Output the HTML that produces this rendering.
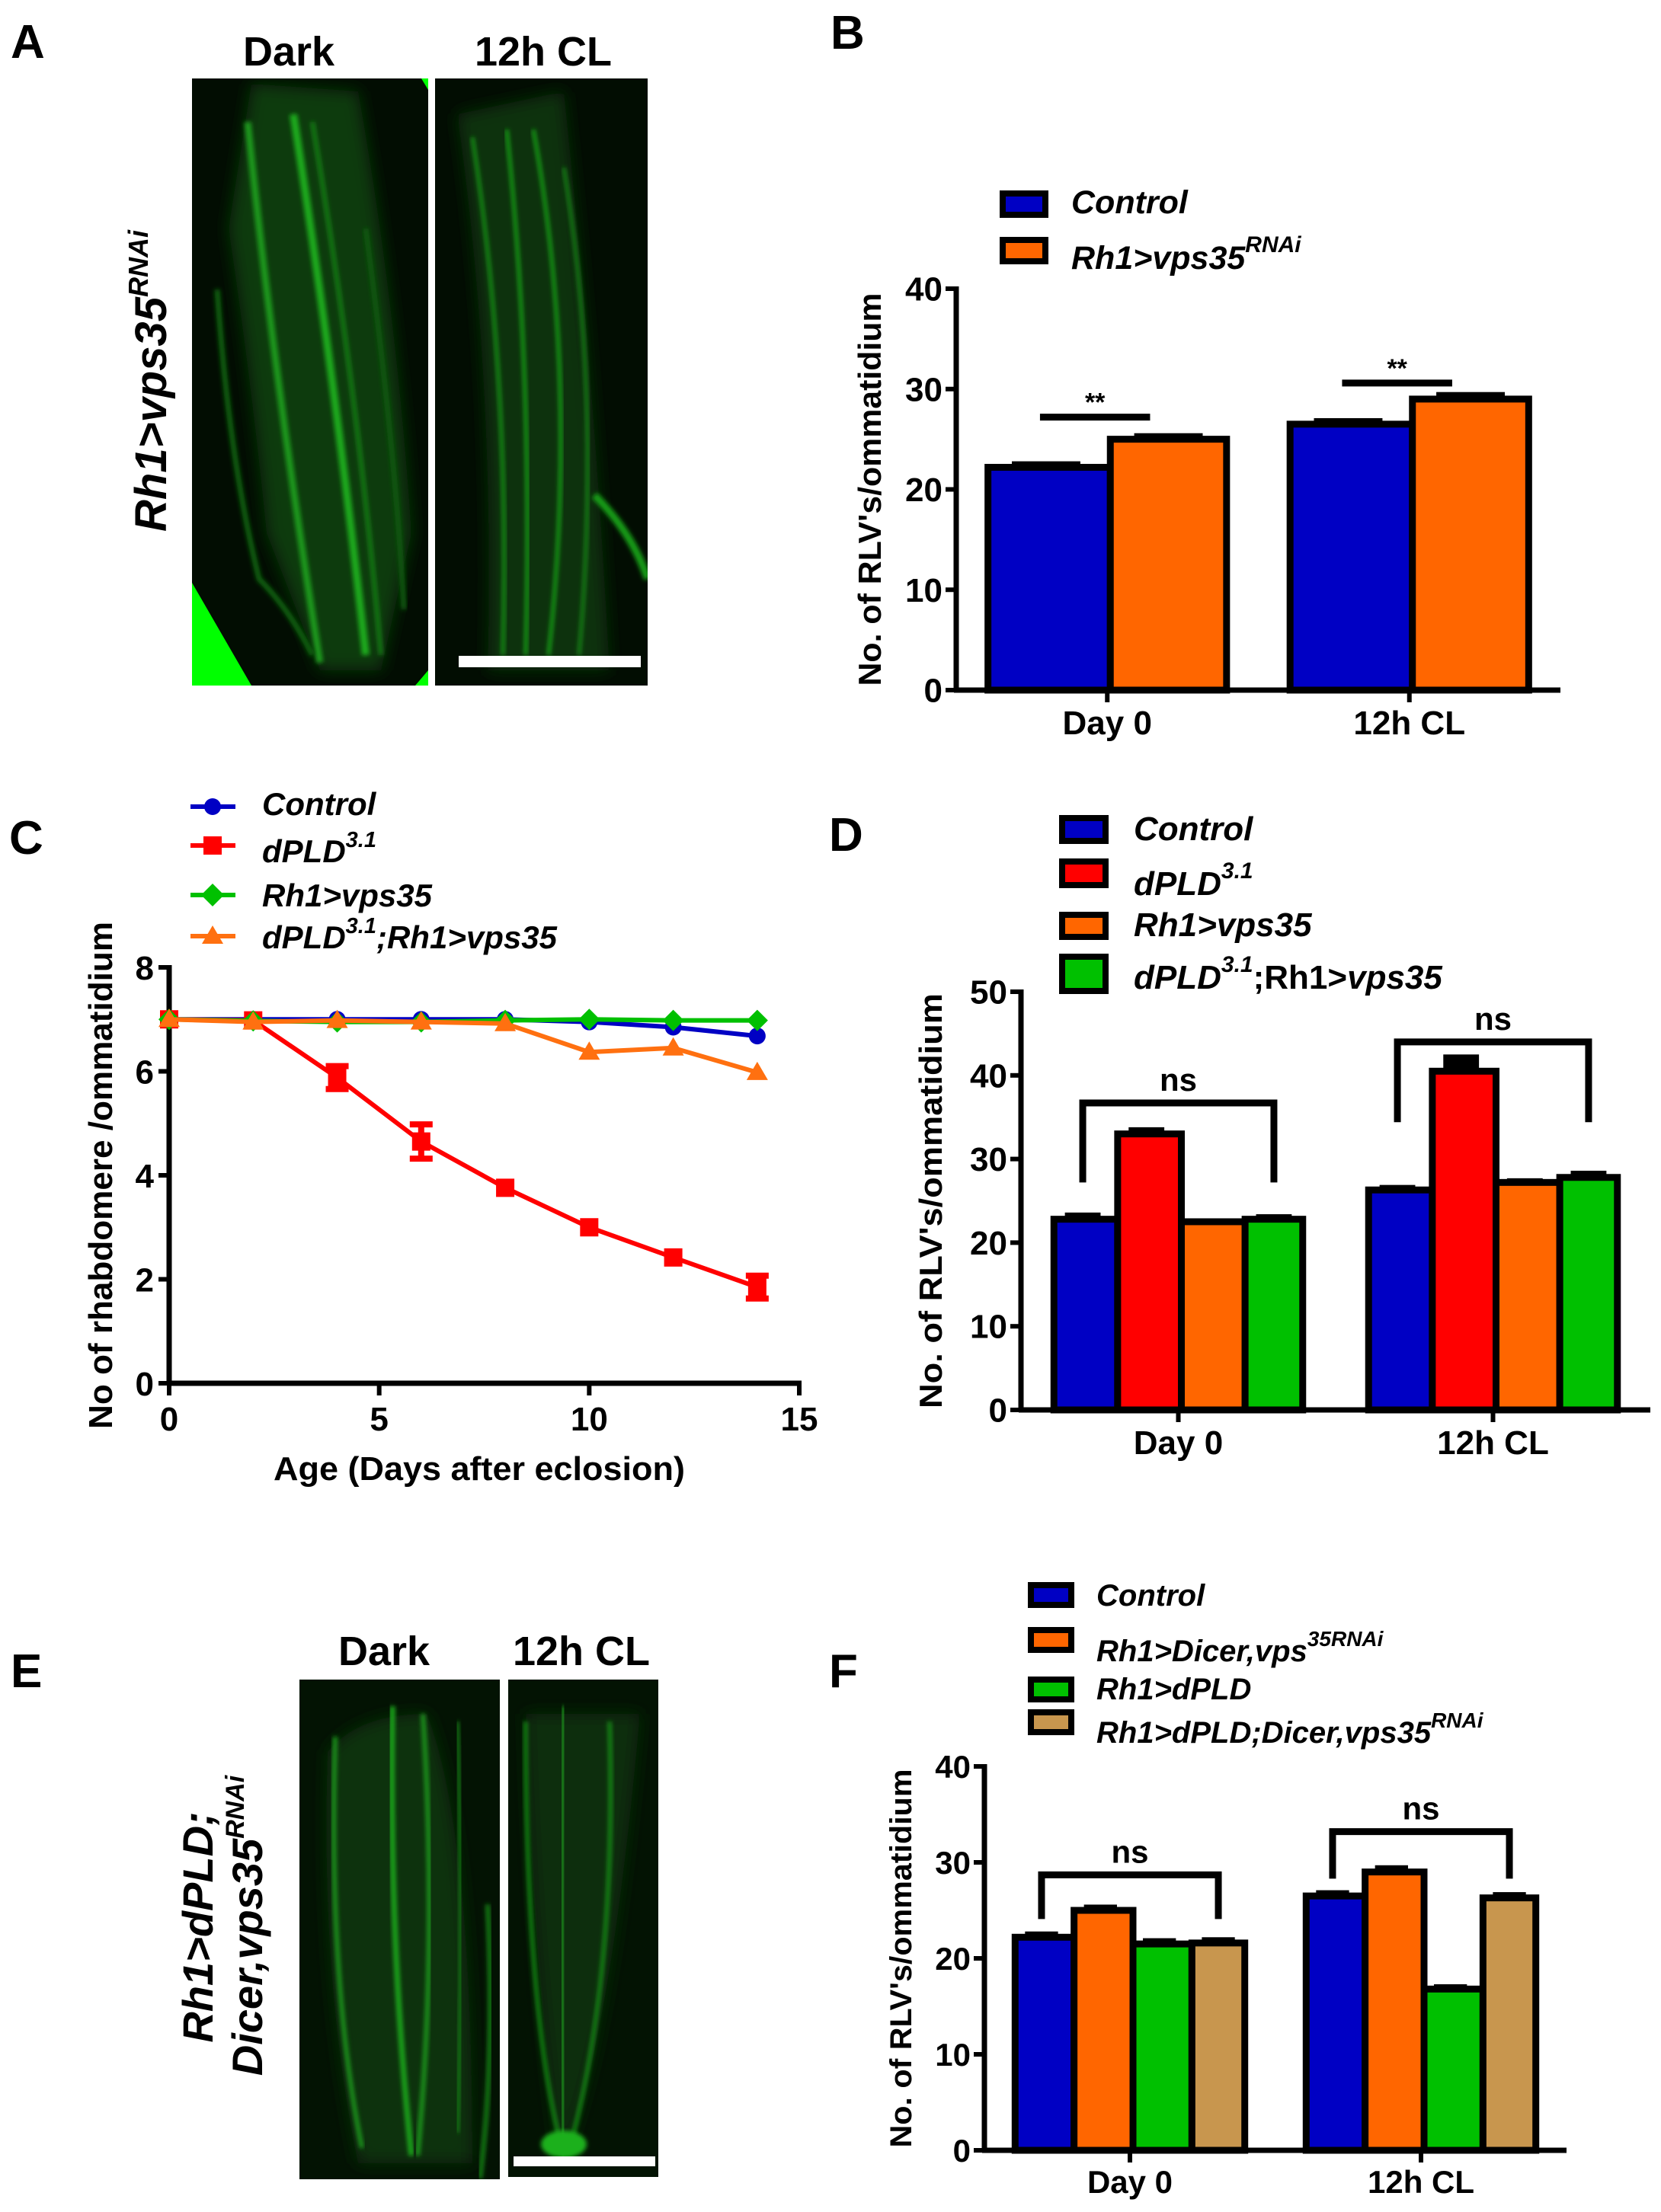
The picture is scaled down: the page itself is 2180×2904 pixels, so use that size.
<!DOCTYPE html>
<html><head><meta charset="utf-8">
<style>
html,body{margin:0;padding:0;background:#fff;}
svg{display:block;font-family:"Liberation Sans",sans-serif;font-weight:bold;}
</style></head>
<body>
<svg id="fig" xmlns="http://www.w3.org/2000/svg" width="2180" height="2904" viewBox="0 0 2180 2904">
<defs>
<filter id="blur2" x="-10%" y="-10%" width="120%" height="120%"><feGaussianBlur stdDeviation="3"/></filter>
<filter id="blur6" x="-10%" y="-10%" width="120%" height="120%"><feGaussianBlur stdDeviation="10"/></filter>
<clipPath id="clipA1"><rect x="252" y="103" width="310" height="797"/></clipPath>
<clipPath id="clipA2"><rect x="571" y="103" width="279" height="797"/></clipPath>
<clipPath id="clipE1"><rect x="393" y="2205" width="263" height="656"/></clipPath>
<clipPath id="clipE2"><rect x="667" y="2205" width="197" height="653"/></clipPath>
</defs>

<!-- Panel labels -->
<text x="14" y="76" font-size="62">A</text>
<text x="1090" y="64" font-size="62">B</text>
<text x="12" y="1121" font-size="62">C</text>
<text x="1088" y="1117" font-size="62">D</text>
<text x="14" y="2215" font-size="62">E</text>
<text x="1088" y="2215" font-size="62">F</text>

<!-- Panel A images -->
<g>
<text x="379" y="86" font-size="54" text-anchor="middle">Dark</text>
<text x="713" y="86" font-size="54" text-anchor="middle">12h CL</text>
<g clip-path="url(#clipA1)">
<rect x="252" y="103" width="310" height="797" fill="#020d02"/>
<path d="M300 300 Q330 500 350 700 L420 880 L500 880 L540 700 Q520 400 470 120 L330 110 Z" fill="#0b3a0b" filter="url(#blur6)"/>
<path d="M325 160 Q360 500 420 870" stroke="#1a9a1a" stroke-width="9" fill="none" filter="url(#blur2)"/>
<path d="M385 150 Q440 500 480 860" stroke="#1eaa1e" stroke-width="10" fill="none" filter="url(#blur2)"/>
<path d="M410 160 Q470 520 500 860" stroke="#147a14" stroke-width="6" fill="none" filter="url(#blur2)"/>
<path d="M285 380 Q300 600 340 760 Q380 800 410 860" stroke="#106410" stroke-width="7" fill="none" filter="url(#blur2)"/>
<path d="M480 300 Q520 600 530 800" stroke="#0e5a0e" stroke-width="7" fill="none" filter="url(#blur2)"/>
<polygon points="252,765 252,900 330,900" fill="#00ff00"/>
<polygon points="553,103 562,103 562,118" fill="#00ff00"/>
<polygon points="545,900 562,900 562,880" fill="#00ff00"/>
</g>
<g clip-path="url(#clipA2)">
<rect x="571" y="103" width="279" height="797" fill="#020d02"/>
<path d="M600 150 Q650 500 640 880 L800 880 Q780 500 740 120 Z" fill="#0a300a" filter="url(#blur6)"/>
<path d="M620 180 Q670 500 660 860" stroke="#168e16" stroke-width="5" fill="none" filter="url(#blur2)"/>
<path d="M665 170 Q700 500 690 860" stroke="#189c18" stroke-width="5" fill="none" filter="url(#blur2)"/>
<path d="M700 170 Q760 500 720 860" stroke="#189c18" stroke-width="5" fill="none" filter="url(#blur2)"/>
<path d="M740 220 Q790 520 760 860" stroke="#148014" stroke-width="5" fill="none" filter="url(#blur2)"/>
<path d="M780 650 Q830 700 850 760" stroke="#189c18" stroke-width="10" fill="none" filter="url(#blur2)"/>
</g>
<rect x="602" y="861" width="239" height="15" fill="#fff"/>
<text transform="translate(218,500) rotate(-90)" font-size="58" font-style="italic" text-anchor="middle">Rh1&gt;vps35<tspan dy="-24" font-size="36">RNAi</tspan></text>
</g>

<!-- Panel E images -->
<g>
<text x="504" y="2186" font-size="54" text-anchor="middle">Dark</text>
<text x="763" y="2186" font-size="54" text-anchor="middle">12h CL</text>
<g clip-path="url(#clipE1)">
<rect x="393" y="2205" width="263" height="656" fill="#031303"/>
<path d="M430 2300 Q470 2250 560 2250 Q620 2400 620 2840 L470 2840 Q420 2600 430 2300 Z" fill="#0a300a" filter="url(#blur6)"/>
<path d="M440 2280 Q430 2600 475 2820" stroke="#1a961a" stroke-width="6" fill="none" filter="url(#blur2)"/>
<path d="M515 2240 Q510 2550 540 2830" stroke="#1ea81e" stroke-width="7" fill="none" filter="url(#blur2)"/>
<path d="M555 2250 Q575 2550 548 2830" stroke="#1a961a" stroke-width="6" fill="none" filter="url(#blur2)"/>
<path d="M600 2260 Q610 2550 600 2800" stroke="#127a12" stroke-width="5" fill="none" filter="url(#blur2)"/>
<path d="M640 2500 Q650 2700 630 2860" stroke="#137e13" stroke-width="6" fill="none" filter="url(#blur2)"/>
</g>
<g clip-path="url(#clipE2)">
<rect x="667" y="2205" width="197" height="653" fill="#031303"/>
<path d="M690 2250 Q700 2600 735 2840 Q800 2700 840 2250 Z" fill="#0a2e0a" filter="url(#blur6)"/>
<path d="M690 2260 Q690 2650 740 2830" stroke="#188e18" stroke-width="5" fill="none" filter="url(#blur2)"/>
<path d="M740 2240 Q735 2550 740 2830" stroke="#1a9a1a" stroke-width="5" fill="none" filter="url(#blur2)"/>
<path d="M800 2260 Q810 2600 745 2830" stroke="#188e18" stroke-width="5" fill="none" filter="url(#blur2)"/>
<ellipse cx="740" cy="2815" rx="30" ry="18" fill="#1eb01e" filter="url(#blur2)"/>
</g>
<rect x="674" y="2831" width="186" height="13" fill="#fff"/>
<text transform="translate(279,2530) rotate(-90)" font-size="56" font-style="italic" text-anchor="middle">Rh1&gt;dPLD;</text>
<text transform="translate(344,2528) rotate(-90)" font-size="56" font-style="italic" text-anchor="middle">Dicer,vps35<tspan dy="-24" font-size="34">RNAi</tspan></text>
</g>

<!-- Panel B legend -->
<g>
<rect x="1316" y="254" width="56" height="28" fill="#0000c4" stroke="#000" stroke-width="8"/>
<text x="1406" y="280" font-size="43" font-style="italic">Control</text>
<rect x="1316" y="315" width="56" height="28" fill="#ff6600" stroke="#000" stroke-width="8"/>
<text x="1406" y="353" font-size="43" font-style="italic">Rh1&gt;vps35<tspan dy="-22" font-size="30">RNAi</tspan></text>
</g>

<!-- Panel D legend -->
<g>
<rect x="1394" y="1074" width="57" height="30" fill="#0000c4" stroke="#000" stroke-width="8"/>
<text x="1488" y="1103" font-size="44" font-style="italic">Control</text>
<rect x="1394" y="1131" width="57" height="31" fill="#ff0000" stroke="#000" stroke-width="8"/>
<text x="1488" y="1175" font-size="44" font-style="italic">dPLD<tspan dy="-22" font-size="30">3.1</tspan></text>
<rect x="1394" y="1201" width="57" height="29" fill="#ff6600" stroke="#000" stroke-width="8"/>
<text x="1488" y="1229" font-size="44" font-style="italic">Rh1&gt;vps35</text>
<rect x="1394" y="1256" width="57" height="45" fill="#00c000" stroke="#000" stroke-width="8"/>
<text x="1488" y="1298" font-size="44"><tspan font-style="italic">dPLD</tspan><tspan dy="-22" font-size="30" font-style="italic">3.1</tspan><tspan dy="22">;Rh1&gt;</tspan><tspan font-style="italic">vps35</tspan></text>
</g>

<!-- Panel F legend -->
<g>
<rect x="1353" y="2081" width="53" height="26" fill="#0000c4" stroke="#000" stroke-width="8"/>
<text x="1439" y="2108" font-size="40" font-style="italic">Control</text>
<rect x="1353" y="2140" width="53" height="26" fill="#ff6600" stroke="#000" stroke-width="8"/>
<text x="1439" y="2181" font-size="40" font-style="italic">Rh1&gt;Dicer,vps<tspan dy="-20" font-size="28">35RNAi</tspan></text>
<rect x="1353" y="2205" width="53" height="26" fill="#00c000" stroke="#000" stroke-width="8"/>
<text x="1439" y="2231" font-size="40" font-style="italic">Rh1&gt;dPLD</text>
<rect x="1353" y="2248" width="53" height="26" fill="#c8964e" stroke="#000" stroke-width="8"/>
<text x="1439" y="2288" font-size="40" font-style="italic">Rh1&gt;dPLD;Dicer,vps35<tspan dy="-20" font-size="28">RNAi</tspan></text>
</g>

<!-- Panel C legend -->
<g>
<line x1="250" y1="1059" x2="309" y2="1059" stroke="#0000c4" stroke-width="6"/>
<circle cx="279" cy="1059" r="11" fill="#0000c4"/>
<text x="344" y="1070" font-size="42" font-style="italic">Control</text>
<line x1="250" y1="1110" x2="309" y2="1110" stroke="#ff0000" stroke-width="6"/>
<rect x="267" y="1098" width="24" height="24" fill="#ff0000"/>
<text x="344" y="1132" font-size="42" font-style="italic">dPLD<tspan dy="-20" font-size="29">3.1</tspan></text>
<line x1="250" y1="1175" x2="309" y2="1175" stroke="#00c000" stroke-width="6"/>
<polygon points="279,1160 294,1175 279,1190 264,1175" fill="#00c000"/>
<text x="344" y="1190" font-size="42" font-style="italic">Rh1&gt;vps35</text>
<line x1="250" y1="1229" x2="309" y2="1229" stroke="#ff7010" stroke-width="6"/>
<polygon points="279,1215 293,1239 265,1239" fill="#ff7010"/>
<text x="344" y="1245" font-size="42" font-style="italic">dPLD<tspan dy="-20" font-size="29">3.1</tspan><tspan dy="20">;Rh1&gt;vps35</tspan></text>
</g>

<g id="charts"></g>
</svg>

<script>
// ---------- Panel B data ----------
var bCategories = ['Day 0', '12h CL'];
var bControl = [22.2, 26.5];
var bVps35 = [25.0, 29.0];
var bErrControl = [0.6, 0.6];
var bErrVps35 = [0.6, 0.7];
var bTicks = [0, 10, 20, 30, 40];
var bSigLevels = [27.2, 30.6];
var bSigLabels = ['**', '**'];

// ---------- Panel C data ----------
var cDays = [0, 2, 4, 6, 8, 10, 12, 14];
var cControl = [7, 7, 7, 7, 7, 6.95, 6.85, 6.68];
var cPld = [7, 6.98, 5.88, 4.65, 3.76, 3.0, 2.42, 1.85];
var cErrPld = [0, 0, 0.22, 0.33, 0, 0, 0, 0.22];
var cVps35 = [7, 6.97, 6.95, 6.95, 6.98, 7, 6.98, 6.98];
var cDouble = [7, 6.95, 6.98, 6.95, 6.92, 6.37, 6.45, 5.98];
var cXTicks = [0, 5, 10, 15];
var cYTicks = [0, 2, 4, 6, 8];

// ---------- Panel D data ----------
var dCategories = ['Day 0', '12h CL'];
var dControl = [22.8, 26.3];
var dPld = [33.0, 40.5];
var dVps35 = [22.5, 27.2];
var dDouble = [22.8, 27.8];
var dErrControl = [0.8, 0.6];
var dErrPld = [0.8, 2.0];
var dErrVps35 = [0.4, 0.5];
var dErrDouble = [0.6, 0.8];
var dTicks = [0, 10, 20, 30, 40, 50];
var dBracketTops = [36.7, 44.0];
var dBracketBottoms = [27.2, 34.4];

// ---------- Panel F data ----------
var fCategories = ['Day 0', '12h CL'];
var fControl = [22.2, 26.5];
var fDicer = [25.0, 29.0];
var fPld = [21.5, 16.8];
var fDouble = [21.6, 26.3];
var fErrControl = [0.6, 0.6];
var fErrDicer = [0.6, 0.7];
var fErrPld = [0.6, 0.5];
var fErrDouble = [0.6, 0.6];
var fTicks = [0, 10, 20, 30, 40];
var fBracketTops = [28.7, 33.2];
var fBracketBottoms = [24.1, 28.3];

var NS = 'http://www.w3.org/2000/svg';
var root = document.getElementById('charts');
function mk(tag, parent) { var e = document.createElementNS(NS, tag); (parent || root).appendChild(e); return e; }
function attrs(e, o) { for (var k in o) e.setAttribute(k, o[k]); return e; }

function barChart(cfg) {
  var g = mk('g');
  
  
  var yScale = function (v) { return cfg.y0 - (v / cfg.ymax) * (cfg.y0 - cfg.yTop); };
  var band = (cfg.x1 - cfg.x0) / cfg.categories.length;
  var groupW = band * 0.81;
  var barW = groupW / cfg.series.length;
  cfg.categories.forEach(function (cat, i) {
    var cx = cfg.x0 + band * (i + 0.5);
    var gx = cx - groupW / 2;
    cfg.series.forEach(function (s, j) {
      var v = s.values[i], e = s.errors[i];
      var bx = gx + j * barW;
      var top = yScale(v);
      var eb = mk('rect', g);
      attrs(eb, { x: bx + barW * 0.22, y: yScale(v + e), width: barW * 0.56, height: Math.max(top - yScale(v + e), 0) + 4, fill: '#000' });
      
      
      var r = mk('rect', g);
      attrs(r, { x: bx + 4, y: top, width: barW - 8 + (j < cfg.series.length - 1 ? 8 : 0), height: cfg.y0 - top, fill: s.color, stroke: '#000', 'stroke-width': 9 });
      
      
    });
    var t = mk('line', g);
    attrs(t, { x1: cx, x2: cx, y1: cfg.y0, y2: cfg.y0 + 16, stroke: '#000', 'stroke-width': 6 });
    
    
    var tl = mk('text', g);
    attrs(tl, { x: cx, y: cfg.y0 + cfg.xLabelOffset, 'font-size': cfg.fs + 2, 'text-anchor': 'middle' });
    tl.textContent = cat;
    
    
  });
  var ya = mk('line', g);
  attrs(ya, { x1: cfg.x0, x2: cfg.x0, y1: cfg.yTop - 3, y2: cfg.y0 + 3, stroke: '#000', 'stroke-width': 7 });
  
  
  var xa = mk('line', g);
  attrs(xa, { x1: cfg.x0 - 3, x2: cfg.x1, y1: cfg.y0, y2: cfg.y0, stroke: '#000', 'stroke-width': 7 });
  
  
  cfg.ticks.forEach(function (tv) {
    var y = yScale(tv);
    var tk = mk('line', g);
    attrs(tk, { x1: cfg.x0 - 14, x2: cfg.x0, y1: y, y2: y, stroke: '#000', 'stroke-width': 6 });
    
    
    var lb = mk('text', g);
    attrs(lb, { x: cfg.x0 - 18, y: y + cfg.fs * 0.37, 'font-size': cfg.fs + 2, 'text-anchor': 'end' });
    lb.textContent = tv;
    
    
  });
  var yt = mk('text', g);
  var mid = (cfg.yTop + cfg.y0) / 2;
  attrs(yt, { transform: 'translate(' + cfg.titleX + ',' + mid + ') rotate(-90)', 'font-size': cfg.fs, 'text-anchor': 'middle', textLength: cfg.titleLen, lengthAdjust: 'spacingAndGlyphs' });
  yt.textContent = "No. of RLV's/ommatidium";
  
  
  return { g: g, yScale: yScale, band: band, groupW: groupW, barW: barW };
}

// ----- Panel B -----
var B = barChart({ name: 'chart-b', x0: 1255, x1: 2048, y0: 906, yTop: 379, ymax: 40, fs: 42, xLabelOffset: 58,
  titleX: 1156, titleLen: 516, ticks: bTicks, categories: bCategories,
  series: [{ key: 'control', values: bControl, errors: bErrControl, color: '#0000c4' },
           { key: 'vps35', values: bVps35, errors: bErrVps35, color: '#ff6600' }] });
bCategories.forEach(function (c, i) {
  var cx = 1255 + B.band * (i + 0.5);
  var y = B.yScale(bSigLevels[i]);
  var l = mk('line', B.g);
  attrs(l, { x1: cx - B.barW * 0.55, x2: cx + B.barW * 0.35, y1: y, y2: y, stroke: '#000', 'stroke-width': 9 });
  
  
  var t = mk('text', B.g);
  attrs(t, { x: cx - B.barW * 0.1, y: y - 8, 'font-size': 34, 'text-anchor': 'middle' });
  t.textContent = bSigLabels[i];
  
  
});

// ----- Panel D -----
var D = barChart({ name: 'chart-d', x0: 1340, x1: 2166, y0: 1851, yTop: 1302, ymax: 50, fs: 42, xLabelOffset: 58,
  titleX: 1236, titleLen: 545, ticks: dTicks, categories: dCategories,
  series: [{ key: 'control', values: dControl, errors: dErrControl, color: '#0000c4' },
           { key: 'dpld', values: dPld, errors: dErrPld, color: '#ff0000' },
           { key: 'vps35', values: dVps35, errors: dErrVps35, color: '#ff6600' },
           { key: 'double', values: dDouble, errors: dErrDouble, color: '#00c000' }] });
function brackets(C, x0, tops, bottoms, prefix) {
  tops.forEach(function (tv, i) {
    var cx = x0 + C.band * (i + 0.5);
    var xl = cx - C.groupW / 2 + C.barW * 0.5, xr = cx + C.groupW / 2 - C.barW * 0.5;
    var yt = C.yScale(tv), yb = C.yScale(bottoms[i]);
    var p = mk('path', C.g);
    attrs(p, { d: 'M' + xl + ' ' + yb + ' L' + xl + ' ' + yt + ' L' + xr + ' ' + yt + ' L' + xr + ' ' + yb, fill: 'none', stroke: '#000', 'stroke-width': 9 });
    
    
    var t = mk('text', C.g);
    attrs(t, { x: (xl + xr) / 2, y: yt - 16, 'font-size': 42, 'text-anchor': 'middle' });
    t.textContent = 'ns';
    
    
  });
}
brackets(D, 1340, dBracketTops, dBracketBottoms, 'd');

// ----- Panel F -----
var F = barChart({ name: 'chart-f', x0: 1292, x1: 2056, y0: 2823, yTop: 2319, ymax: 40, fs: 40, xLabelOffset: 56,
  titleX: 1196, titleLen: 497, ticks: fTicks, categories: fCategories,
  series: [{ key: 'control', values: fControl, errors: fErrControl, color: '#0000c4' },
           { key: 'dicer', values: fDicer, errors: fErrDicer, color: '#ff6600' },
           { key: 'dpld', values: fPld, errors: fErrPld, color: '#00c000' },
           { key: 'double', values: fDouble, errors: fErrDouble, color: '#c8964e' }] });
brackets(F, 1292, fBracketTops, fBracketBottoms, 'f');

// ----- Panel C (line chart) -----
(function () {
  var x0 = 222, x1 = 1049, y0 = 1816, yTop = 1270, xmax = 15, ymax = 8;
  var xs = function (v) { return x0 + v / xmax * (x1 - x0); };
  var ys = function (v) { return y0 - v / ymax * (y0 - yTop); };
  var g = mk('g');
  
  
  var ya = mk('line', g);
  attrs(ya, { x1: x0, x2: x0, y1: yTop - 3, y2: y0 + 3, stroke: '#000', 'stroke-width': 7 });
  
  
  var xa = mk('line', g);
  attrs(xa, { x1: x0 - 3, x2: x1 + 3, y1: y0, y2: y0, stroke: '#000', 'stroke-width': 7 });
  
  
  cYTicks.forEach(function (v) {
    var tk = mk('line', g);
    attrs(tk, { x1: x0 - 14, x2: x0, y1: ys(v), y2: ys(v), stroke: '#000', 'stroke-width': 6 });
    
    
    var lb = mk('text', g);
    attrs(lb, { x: x0 - 20, y: ys(v) + 16, 'font-size': 44, 'text-anchor': 'end' });
    lb.textContent = v;
    
    
  });
  cXTicks.forEach(function (v) {
    var tk = mk('line', g);
    attrs(tk, { x1: xs(v), x2: xs(v), y1: y0, y2: y0 + 16, stroke: '#000', 'stroke-width': 6 });
    
    
    var lb = mk('text', g);
    attrs(lb, { x: xs(v), y: y0 + 62, 'font-size': 44, 'text-anchor': 'middle' });
    lb.textContent = v;
    
    
  });
  var xt = mk('text', g);
  attrs(xt, { x: 629, y: 1943, 'font-size': 44, 'text-anchor': 'middle', textLength: 540, lengthAdjust: 'spacingAndGlyphs' });
  xt.textContent = 'Age (Days after eclosion)';
  
  
  var yt = mk('text', g);
  attrs(yt, { transform: 'translate(147,1543) rotate(-90)', 'font-size': 44, 'text-anchor': 'middle', textLength: 666, lengthAdjust: 'spacingAndGlyphs' });
  yt.textContent = 'No of rhabdomere /ommatidium';
  
  

  var series = [
    { key: 'control', vals: cControl, color: '#0000c4', shape: 'circle', err: null },
    { key: 'dpld', vals: cPld, color: '#ff0000', shape: 'square', err: cErrPld },
    { key: 'vps35', vals: cVps35, color: '#00c000', shape: 'diamond', err: null },
    { key: 'double', vals: cDouble, color: '#ff7010', shape: 'triangle', err: null }
  ];
  series.forEach(function (s) {
    var pts = cDays.map(function (d, i) { return xs(d) + ',' + ys(s.vals[i]); }).join(' ');
    var pl = mk('polyline', g);
    attrs(pl, { points: pts, fill: 'none', stroke: s.color, 'stroke-width': 6 });
    
    
    cDays.forEach(function (d, i) {
      var x = xs(d), y = ys(s.vals[i]), m;
      if (s.err && s.err[i] > 0) {
        var eb = mk('path', g);
        var yt1 = ys(s.vals[i] + s.err[i]), yb1 = ys(s.vals[i] - s.err[i]);
        attrs(eb, { d: 'M' + x + ' ' + yt1 + ' L' + x + ' ' + yb1 + ' M' + (x - 15) + ' ' + yt1 + ' L' + (x + 15) + ' ' + yt1 + ' M' + (x - 15) + ' ' + yb1 + ' L' + (x + 15) + ' ' + yb1, stroke: s.color, 'stroke-width': 8, fill: 'none' });
        
        
      }
      if (s.shape === 'circle') { m = mk('circle', g); attrs(m, { cx: x, cy: y, r: 11, fill: s.color }); }
      else if (s.shape === 'square') { m = mk('rect', g); attrs(m, { x: x - 12, y: y - 12, width: 24, height: 24, fill: s.color }); }
      else if (s.shape === 'diamond') { m = mk('polygon', g); attrs(m, { points: x + ',' + (y - 14) + ' ' + (x + 14) + ',' + y + ' ' + x + ',' + (y + 14) + ' ' + (x - 14) + ',' + y, fill: s.color }); }
      else { m = mk('polygon', g); attrs(m, { points: x + ',' + (y - 14) + ' ' + (x + 14) + ',' + (y + 10) + ' ' + (x - 14) + ',' + (y + 10), fill: s.color }); }
      
      
    });
  });
})();
</script>
</body></html>
